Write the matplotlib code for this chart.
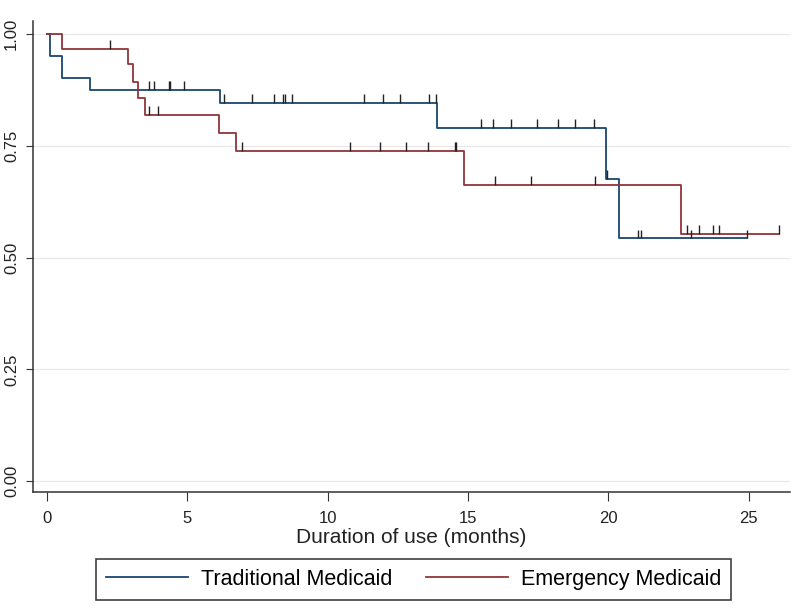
import numpy as np
import matplotlib.pyplot as plt

plt.rcParams['font.family'] = ['Liberation Sans', 'DejaVu Sans']

# Kaplan-Meier step data
trad_times = [0, 0.1, 0.53, 1.53, 6.16, 13.9, 19.92, 20.38]
trad_surv = [1.0, 0.951, 0.902, 0.875, 0.846, 0.79, 0.677, 0.543]
trad_end = 24.96
trad_censor = [3.63, 3.81, 4.34, 4.38, 4.88,
               6.30, 7.30, 8.08, 8.40, 8.48, 8.73, 11.29, 11.97, 12.57, 13.60, 13.85,
               15.46, 15.89, 16.52, 17.47, 18.21, 18.80, 19.49,
               19.97, 21.06, 21.18, 22.96, 24.96]

emerg_times = [0, 0.55, 2.9, 3.07, 3.23, 3.49, 6.14, 6.75, 14.86, 22.6]
emerg_surv = [1.0, 0.966, 0.934, 0.893, 0.858, 0.820, 0.778, 0.738, 0.662, 0.554]
emerg_end = 26.1
emerg_censor = [2.24, 3.64, 3.96,
                6.96, 10.79, 11.86, 12.81, 13.58, 14.53, 14.59,
                15.98, 17.26, 19.52,
                22.80, 23.23, 23.73, 23.94, 26.1]

x_ticks = [0, 5, 10, 15, 20, 25]
y_ticks = [0.0, 0.25, 0.5, 0.75, 1.0]
y_ticklabels = ['0.00', '0.25', '0.50', '0.75', '1.00']

blue = '#1a476f'
red = '#90353b'

fig = plt.figure(figsize=(8, 6.08), dpi=100)
ax = fig.add_axes([0.041, 0.19, 0.946, 0.776])


def km(ax, times, surv, end, censor, color, label):
    xs = list(times) + [end]
    ys = list(surv) + [surv[-1]]
    ax.step(xs, ys, where='post', color=color, lw=1.3, label=label, zorder=3)
    lev = np.array(surv)[np.searchsorted(times, censor, side='right') - 1]
    ax.vlines(censor, lev, lev + 0.02, color='#222222', lw=1.0, zorder=4)


km(ax, trad_times, trad_surv, trad_end, trad_censor, blue, 'Traditional Medicaid')
km(ax, emerg_times, emerg_surv, emerg_end, emerg_censor, red, 'Emergency Medicaid')

ax.set_xlim(-0.5, 26.46)
ax.set_ylim(-0.025, 1.03)
ax.set_xticks(x_ticks)
ax.set_yticks(y_ticks)
ax.set_yticklabels(y_ticklabels, rotation=90, va='center')
ax.grid(axis='y', color='#e8e8e8', lw=0.9, zorder=0)
ax.tick_params(labelsize=12, color='#333333', labelcolor='#222222')
ax.tick_params(axis='x', length=6.5, pad=7)
ax.tick_params(axis='y', length=5, pad=5)
for s in ['top', 'right']:
    ax.spines[s].set_visible(False)
for s in ['left', 'bottom']:
    ax.spines[s].set_color('#333333')
    ax.spines[s].set_linewidth(1.1)
ax.set_xlabel('Duration of use (months)', fontsize=15, color='#222222', labelpad=1)

leg = fig.legend(loc='center', bbox_to_anchor=(0.517, 0.047), ncol=2, fontsize=15.5,
                 handlelength=3.8, columnspacing=1.6, frameon=True, fancybox=False,
                 borderpad=0.45, handletextpad=0.6, borderaxespad=0.2)
leg.get_frame().set_edgecolor('#111111')
leg.get_frame().set_linewidth(1.2)

fig.savefig('out.png', dpi=100)
